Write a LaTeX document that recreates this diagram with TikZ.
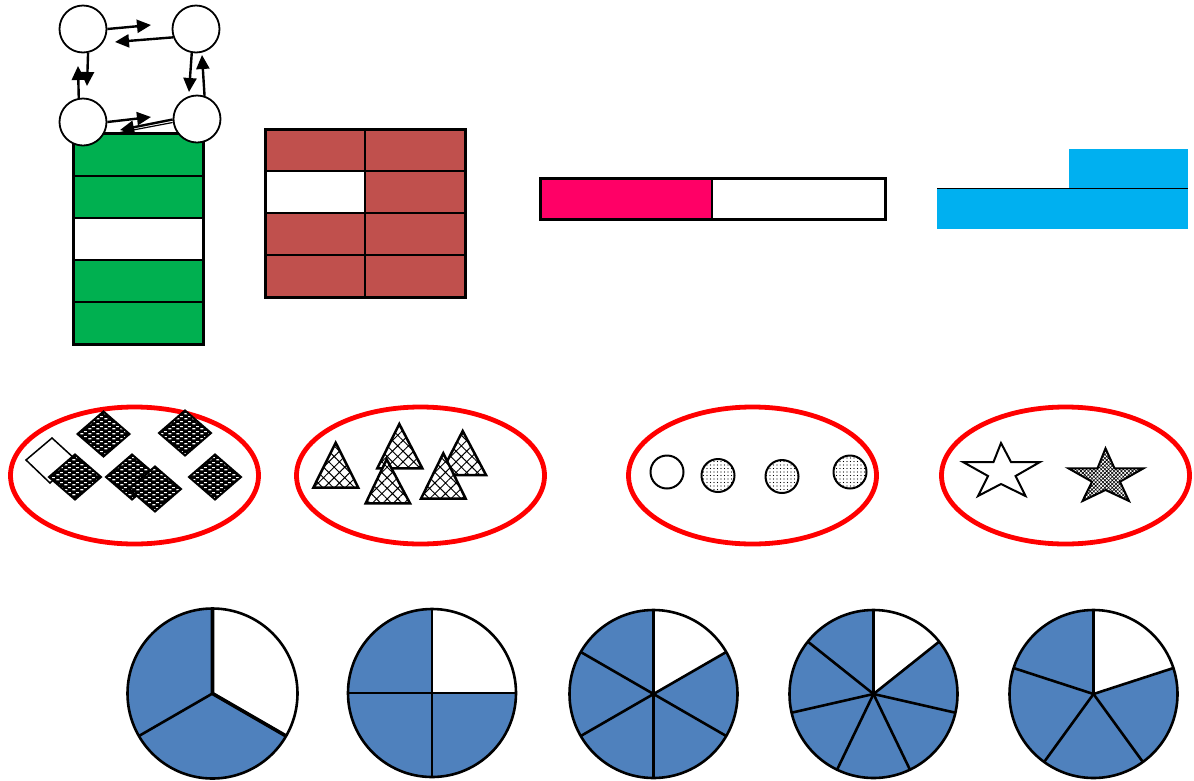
\documentclass[tikz,border=0pt]{standalone}
\usetikzlibrary{arrows.meta,patterns,patterns.meta}
\definecolor{grn}{HTML}{00B050}
\definecolor{brick}{HTML}{C0504D}
\definecolor{pinkc}{HTML}{FF0066}
\definecolor{skyb}{HTML}{00B0F0}
\definecolor{pieblue}{HTML}{4F81BD}
\definecolor{ellred}{HTML}{FF0000}
\pgfdeclarepatternformonly{wdash}{\pgfqpoint{0pt}{0pt}}{\pgfqpoint{8pt}{5pt}}{\pgfqpoint{8pt}{5pt}}{%
  \pgfpathrectangle{\pgfqpoint{0.5pt}{0.8pt}}{\pgfqpoint{3.2pt}{1.4pt}}%
  \pgfpathrectangle{\pgfqpoint{4.5pt}{3.3pt}}{\pgfqpoint{3.2pt}{1.4pt}}%
  \pgfusepath{fill}}
\tikzset{
  dot/.style={circle,draw,fill=white,line width=1.8pt,minimum size=47pt,inner sep=0pt},
  arr/.style={line width=2.4pt,-{Triangle[length=14pt,width=13pt]}},
  ell/.style={draw=ellred,line width=4.8pt},
  dia/.style={draw,line width=2pt,preaction={fill=black},pattern=wdash,pattern color=white},
  tri/.style={draw,line width=2.5pt,preaction={fill=white},pattern={Hatch[angle=45,distance=7.5pt,line width=1pt]}},
  ball/.style={draw,line width=2pt,preaction={fill=white},pattern={Dots[distance=3.5pt,radius=0.7pt]}},
  pieline/.style={line width=2.6pt},
  outer/.style={line width=3pt},
  inner/.style={line width=2pt},
}
\newcommand{\fracpie}[4]{%
\begin{scope}[shift={(#1,#2)},x=1pt,y=1pt]
  \pgfmathsetmacro\stp{360/#3}
  \fill[pieblue] (0,0) circle[radius=#4];
  \fill[white] (0,0) -- (90:#4) arc[start angle=90,end angle=90-\stp,radius=#4] -- cycle;
  \foreach \k in {1,...,#3}{\draw[pieline] (0,0) -- ({90-(\k-1)*\stp}:#4);}
  \draw[pieline] (0,0) circle[radius=#4];
\end{scope}}
\begin{document}
\begin{tikzpicture}[x=1pt,y=-1pt]
\useasboundingbox (0,0) rectangle (1194,780);

% green column
\fill[grn] (73,133) rectangle (203,218);
\fill[grn] (73,260) rectangle (203,344);
\draw[inner] (73,176) -- (203,176) (73,218) -- (203,218) (73,260) -- (203,260) (73,302) -- (203,302);
\draw[outer] (73,133) rectangle (203,344);

% cycle of circles
\node[dot] (c1) at (83,29) {};
\node[dot] (c2) at (196,29) {};
\node[dot] (c3) at (83,122) {};
\node[dot] (c4) at (197,119) {};
\coordinate (t1) at (151,25);
\coordinate (t2) at (115,42);
\coordinate (t3) at (189,92);
\coordinate (t4) at (202,55);
\coordinate (t5) at (87,86);
\coordinate (t6) at (78,66);
\coordinate (t7) at (151,117);
\coordinate (t8) at (120,130);
\draw[arr] (c1.east) -- (t1);
\draw[arr] (c2.200) -- (t2);
\draw[arr] (c2.260) -- (t3);
\draw[arr] (c4.72) -- (t4);
\draw[arr] (c1.-78) -- (t5);
\draw[arr] (c3.100) -- (t6);
\draw[arr] (c3.east) -- (t7);
\draw[line width=1.2pt] ([yshift=-3.5pt]c4.west) -- ([yshift=-2.5pt]t8);
\draw[arr] ([yshift=-0.5pt]c4.west) -- (t8);

% brick grid
\fill[brick] (265,129) rectangle (465,297);
\fill[white] (265,171) rectangle (365,213);
\draw[inner] (265,171) -- (465,171) (265,213) -- (465,213) (265,255) -- (465,255) (365,129) -- (365,297);
\draw[outer] (265,129) rectangle (465,297);

% pink bar
\fill[pinkc] (540,178) rectangle (712,219);
\draw[inner] (712,178) -- (712,219);
\draw[outer] (540,178) rectangle (885,219);

% blue blocks
\fill[skyb] (937,188) rectangle (1188,229);
\fill[skyb] (1069,149) rectangle (1188,188);
\draw[line width=1pt] (937,188) -- (1188,188);

% ellipses
\draw[ell] (134.5,475.5) ellipse [x radius=124, y radius=68.5];
\draw[ell] (420.5,475.5) ellipse [x radius=124, y radius=68.5];
\draw[ell] (752.5,475.5) ellipse [x radius=124, y radius=68.5];
\draw[ell] (1065.5,475.5) ellipse [x radius=124, y radius=68.5];

% diamonds
\draw[line width=1.5pt,fill=white] (52,438) -- (75,459) -- (50,483) -- (26,460) -- cycle;
\foreach \cx/\cy in {75/477,103.5/434,185/433,132/477,155/489,215/477}{
  \draw[dia] (\cx,\cy-22.5) -- (\cx+26,\cy) -- (\cx,\cy+22.5) -- (\cx-26,\cy) -- cycle;
}

% triangles
\draw[tri] (335.7,442.7) -- (358.3,487.7) -- (313.3,487.7) -- cycle;
\draw[tri] (399.3,424) -- (422.3,468.3) -- (377.3,468.3) -- cycle;
\draw[tri] (462.7,431) -- (486,475) -- (440,475) -- cycle;
\draw[tri] (386.7,459.3) -- (410,503.3) -- (365.7,503.3) -- cycle;
\draw[tri] (443.3,453.3) -- (465.7,498.7) -- (421,498.7) -- cycle;

% balls
\draw[line width=2pt,fill=white] (667,472) circle[radius=16.5];
\draw[ball] (718,475.5) circle[radius=16.5];
\draw[ball] (782,476.5) circle[radius=16.5];
\draw[ball] (850,472) circle[radius=16.5];

% stars
\draw[line width=2pt,fill=white] (1001,443) -- (1011,462) -- (1040,462) -- (1015.6,476) -- (1025.5,496) -- (1001,484) -- (978,496) -- (988,476) -- (963,462) -- (993.5,462) -- cycle;
\draw[line width=2pt,preaction={fill=white},pattern={Hatch[angle=45,distance=2.6pt,line width=0.6pt]}] (1105.5,448.3) -- (1114.5,468.3) -- (1143.6,468.3) -- (1120,481.7) -- (1129,501) -- (1105.5,490) -- (1082.5,501) -- (1092,481.7) -- (1068.4,468.3) -- (1097.5,468.3) -- cycle;

% pies
\fracpie{212.5}{693.5}{3}{85}
\begin{scope}[shift={(212.5,693.5)},x=1pt,y=1pt]
  \draw[line width=3.6pt] (90:85) -- (0,0) -- (-30:85);
\end{scope}
\fracpie{432}{693}{4}{84}
\fracpie{653.5}{694}{6}{84}
\fracpie{873.5}{694}{7}{84}
\fracpie{1093.5}{694}{5}{84}
\end{tikzpicture}
\end{document}
